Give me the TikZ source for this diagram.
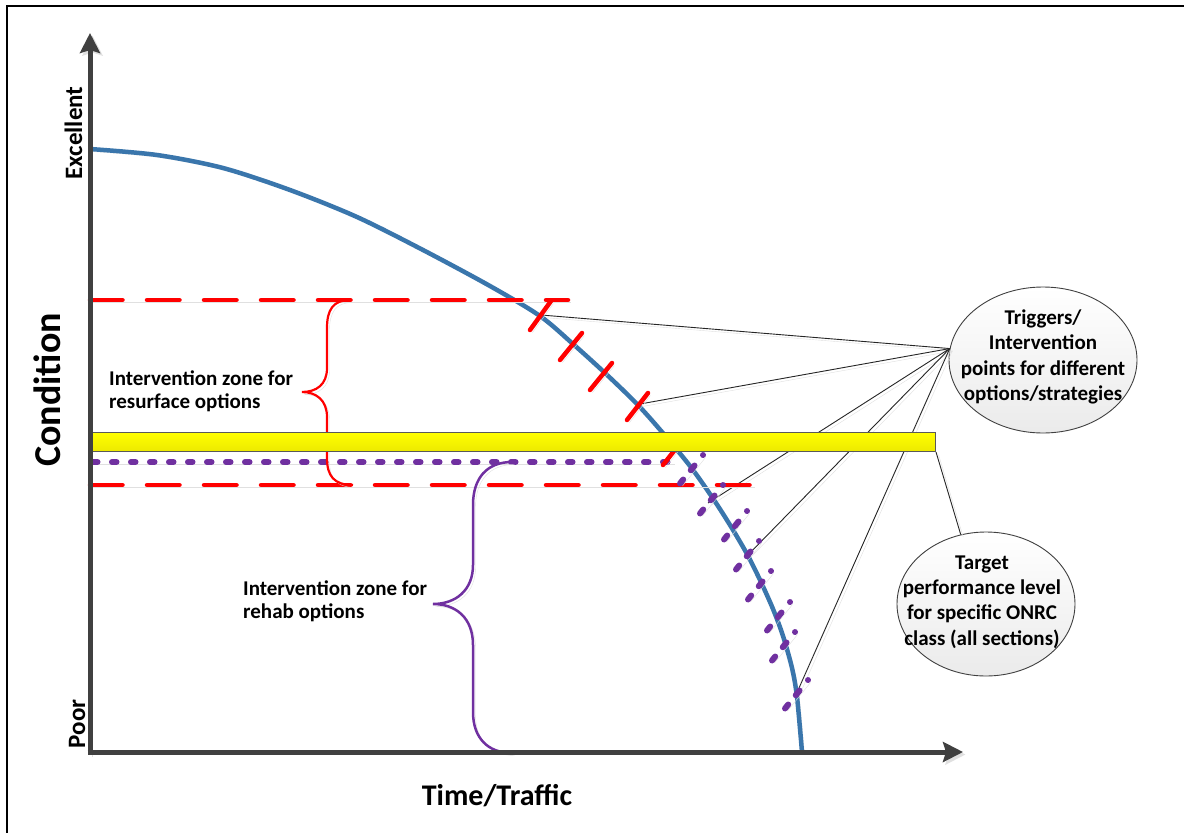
\documentclass[tikz,border=0pt]{standalone}
\usepackage{fontspec}
\setmainfont{Carlito}
\usetikzlibrary{arrows.meta,shapes.geometric}
\definecolor{curveblue}{RGB}{58,118,172}
\definecolor{zonepurple}{RGB}{112,48,160}
\definecolor{axisgray}{RGB}{64,64,64}
\definecolor{bandtop}{RGB}{255,255,0}
\definecolor{bandbot}{RGB}{236,233,0}
\begin{document}
\begin{tikzpicture}[x=1pt,y=-1pt,
  shadowed/.style={preaction={draw=black!12,transform canvas={shift={(2.5pt,-2.5pt)}}}},
  axisline/.style={shadowed,draw=axisgray,line width=5pt,-{Stealth[length=20pt,width=20pt,inset=3pt]}},
  curveline/.style={shadowed,draw=curveblue,line width=4.5pt},
  reddash/.style={shadowed,draw=red,line width=4.5pt,line cap=round,dash pattern=on 32.5pt off 24.5pt},
  purpledot/.style={shadowed,draw=zonepurple,line width=6pt,line cap=round,dash pattern=on 4.5pt off 14.5pt},
  redtick/.style={shadowed,draw=red,line width=4.5pt,line cap=round},
  ptick/.style={shadowed,draw=zonepurple,line width=6pt,line cap=round,dash pattern=on 0.01pt off 13.5pt on 6pt off 12pt on 6pt},
  link/.style={shadowed,draw=black!85,line width=0.9pt},
  redbrace/.style={shadowed,draw=red,line width=2.2pt},
  purplebrace/.style={shadowed,draw=zonepurple,line width=2.5pt},
  bandbox/.style={draw=black!65,line width=1pt,top color=bandtop,bottom color=bandbot,inner sep=0pt},
  bubble/.style={ellipse,draw=black!75,line width=0.9pt,top color=white,bottom color=black!8,inner sep=0pt},
  label/.style={font=\bfseries\fontsize{21}{23}\selectfont,align=left,inner sep=0pt},
  bubbletext/.style={font=\bfseries\fontsize{21}{25.3}\selectfont,align=center,inner sep=0pt},
  axislabel/.style={font=\bfseries\fontsize{25}{28}\selectfont,inner sep=0pt,rotate=90,anchor=base}
]
\useasboundingbox (0,0) rectangle (1184,833);
\fill[white] (0,0) rectangle (1184,833);
% frame
\draw[line width=2pt,black] (7,833) -- (7,6) -- (1184,6);

% named points
\coordinate (rt1) at (541,315);
\coordinate (rt4) at (640,404);
\coordinate (pt2) at (708,503);
\coordinate (pt4) at (745,558);
\coordinate (pt8) at (795,697);

% ellipses (nodes)
\node[bubble,minimum width=188,minimum height=146] (trig) at (1043,360) {};
\node[bubble,minimum width=178,minimum height=144] (targ) at (986,604) {};

% connectors (behind band)
\draw[link] (trig.173) -- (rt1);
\draw[link] (trig.173) -- (rt4);
\draw[link] (trig.173) -- (pt2);
\draw[link] (trig.173) -- (pt4);
\draw[link] (trig.173) -- (pt8);

% deterioration curve
\draw[curveline] plot[smooth,tension=0.5] coordinates {
 (90,149) (157,155) (223,168) (290,190) (357,217) (423,250) (490,286)
 (540,316) (573,344) (605,373) (637,404) (662,432) (690,466) (712,497)
 (730,525) (747,554) (760,580) (773,609) (783,636) (792,668) (797,697) (802,752)};

% intervention levels
\draw[reddash] (90,300) -- (568,300);
\draw[reddash] (90,485) -- (752,485);
\draw[purpledot] (93,462) -- (672,462);

% red trigger ticks
\draw[redtick] (530,330) -- (551,301);
\draw[redtick] (560,360) -- (582,333);
\draw[redtick] (590,390) -- (612,363);
\draw[redtick] (627,420) -- (648,393);
\draw[redtick] (663,465) -- (685,437);

% purple trigger ticks
\foreach \p in {(703,455),(723,485),(747,511),(759,541),(771,571),(790,602),(795,632),(808,680)}
  \draw[ptick] \p -- ++(-23,28.5);

% braces
\draw[redbrace] (350,300) .. controls (333,300) and (327,310) .. (327,328) -- (327,368)
  .. controls (327,385) and (316,392) .. (302,392)
  .. controls (316,392) and (327,400) .. (327,417) -- (327,458)
  .. controls (327,476) and (334,485) .. (353,485);
\draw[purplebrace] (512,462) .. controls (487,462) and (473,478) .. (473,505) -- (473,565)
  .. controls (473,590) and (456,604) .. (433,604)
  .. controls (456,604) and (473,618) .. (473,645) -- (473,712)
  .. controls (473,738) and (488,753) .. (512,753);

% target band
\node[bandbox,anchor=north west,minimum width=845,minimum height=19] (band) at (90,432) {};
\draw[link] (band.south east) -- (targ.110);

% axes
\coordinate (origin) at (90,752);
\draw[axisline] (90,754.5) -- (90,33);
\draw[axisline] (87.5,752) -- (963,752);

% texts
\node[bubbletext] (trigtext) at (1043,357) {Triggers/\\Intervention\\points for different\\options/strategies};
\node[bubbletext] (targtext) at (982,602) {Target\\performance level\\for specific ONRC\\class (all sections)};
\node[label,anchor=west] (resurf) at (109,391) {Intervention zone for\\resurface options};
\node[label,anchor=west] (rehab) at (243,601) {Intervention zone for\\rehab options};
\node[axislabel] (excellent) at (82,133) {Excellent};
\node[axislabel] (poor) at (85,724) {Poor};
\node[font=\bfseries\fontsize{38}{40}\selectfont,inner sep=0pt,rotate=90,anchor=base] (cond) at (60,390) {Condition};
\node[font=\bfseries\fontsize{30}{32}\selectfont,inner sep=0pt,anchor=base] (time) at (497,805) {Time/Traffic};
\end{tikzpicture}
\end{document}
